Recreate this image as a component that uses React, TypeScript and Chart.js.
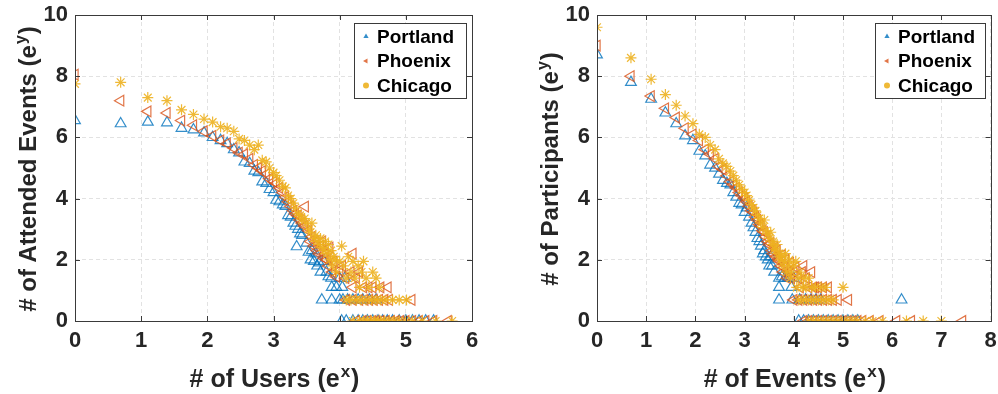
import React, { useEffect, useRef } from 'react';
import { Chart, registerables } from 'chart.js';

Chart.register(...registerables);

const seriesNames = ['Portland', 'Phoenix', 'Chicago'];
const seriesColors = ['rgba(0,114,189,0.8)', 'rgba(217,83,25,0.8)', 'rgba(237,177,32,0.9)'];

const usersXTicks = [0, 1, 2, 3, 4, 5, 6];
const eventsXTicks = [0, 1, 2, 3, 4, 5, 6, 7, 8];
const yTicks = [0, 2, 4, 6, 8, 10];

// Left: # of Users (x) vs # of Attended Events (y)
const usersPortland = [
  [0, 6.55], [0.69, 6.45], [1.1, 6.5], [1.39, 6.48], [1.61, 6.3], [1.79, 6.25], [1.95, 6.15], [2.08, 6.0],
  [2.2, 5.9], [2.3, 5.8], [2.4, 5.6], [2.48, 5.5], [2.56, 5.2], [2.64, 5.15], [2.71, 4.9], [2.77, 4.85],
  [2.83, 4.55], [2.89, 4.5], [2.94, 4.3], [3.0, 4.2], [3.04, 3.95], [3.09, 3.9], [3.14, 3.8], [3.18, 3.75],
  [3.22, 3.45], [3.26, 3.4], [3.3, 3.2], [3.33, 3.1], [3.37, 3.0], [3.4, 2.85], [3.43, 2.8], [3.35, 2.43],
  [3.5, 2.55], [3.53, 2.25], [3.56, 2.0], [3.58, 2.3], [3.61, 1.95], [3.64, 2.2], [3.66, 1.8], [3.69, 1.9],
  [3.71, 1.6], [3.76, 1.95], [3.8, 1.6], [3.83, 1.45], [3.87, 1.4], [3.88, 1.1], [3.95, 1.1], [4.0, 1.4],
  [4.04, 1.1], [4.08, 1.4],
  [3.73, 0.69], [3.88, 0.69], [4.0, 0.69], [4.05, 0.69], [4.12, 0.69], [4.2, 0.69], [4.28, 0.69], [4.35, 0.69],
  [4.45, 0.69], [4.55, 0.69],
  [4.03, 0], [4.1, 0], [4.2, 0], [4.28, 0], [4.35, 0], [4.42, 0], [4.5, 0], [4.58, 0], [4.65, 0], [4.72, 0],
  [4.8, 0], [4.9, 0], [5.0, 0], [5.1, 0], [5.2, 0], [5.3, 0], [5.42, 0],
];

const usersPhoenix = [
  [0, 8.05], [0.69, 7.2], [1.1, 6.85], [1.39, 6.8], [1.61, 6.55], [1.79, 6.4], [1.95, 6.2], [2.08, 6.05],
  [2.2, 5.9], [2.3, 5.8], [2.4, 5.65], [2.48, 5.5], [2.56, 5.45], [2.64, 5.3], [2.71, 5.1], [2.77, 5.0],
  [2.83, 4.9], [2.89, 4.8], [2.94, 4.65], [3.0, 4.55], [3.04, 4.5], [3.09, 4.35], [3.14, 4.2], [3.18, 4.05],
  [3.22, 3.9], [3.26, 3.75], [3.3, 3.6], [3.33, 3.5], [3.37, 3.45], [3.4, 3.3], [3.43, 3.2], [3.47, 3.1],
  [3.48, 3.74], [3.53, 2.95], [3.56, 2.6], [3.58, 2.75], [3.61, 2.45], [3.64, 2.6], [3.66, 2.3], [3.69, 2.2],
  [3.71, 2.45], [3.74, 2.6], [3.76, 2.05], [3.78, 2.2], [3.81, 2.0], [3.83, 1.8], [3.85, 2.4], [3.89, 1.6],
  [3.91, 1.95], [3.95, 1.45], [4.0, 1.65], [4.04, 1.8], [4.09, 1.4], [4.2, 2.2], [4.17, 1.6], [4.2, 1.1],
  [4.25, 1.4], [4.3, 1.6], [4.36, 1.1], [4.44, 1.1], [4.5, 1.1], [4.62, 1.1], [4.73, 1.1],
  [4.1, 0.69], [4.2, 0.69], [4.3, 0.69], [4.38, 0.69], [4.45, 0.69], [4.52, 0.69], [4.6, 0.69], [4.68, 0.69],
  [4.75, 0.69], [5.09, 0.69],
  [4.25, 0], [4.35, 0], [4.42, 0], [4.5, 0], [4.55, 0], [4.62, 0], [4.7, 0], [4.78, 0], [4.85, 0], [4.92, 0],
  [5.0, 0], [5.1, 0], [5.2, 0], [5.3, 0], [5.42, 0], [5.64, 0],
];

const usersChicago = [
  [0, 7.75], [0.69, 7.8], [1.1, 7.3], [1.39, 7.2], [1.61, 6.9], [1.79, 6.75], [1.95, 6.6], [2.08, 6.5],
  [2.2, 6.35], [2.3, 6.3], [2.4, 6.2], [2.48, 5.95], [2.56, 5.9], [2.64, 5.75], [2.71, 5.6], [2.77, 5.75],
  [2.83, 5.25], [2.89, 5.2], [2.94, 5.0], [3.0, 4.85], [3.04, 4.75], [3.09, 4.6], [3.14, 4.4], [3.18, 4.35],
  [3.22, 4.1], [3.26, 4.0], [3.3, 3.85], [3.33, 3.7], [3.37, 3.5], [3.4, 3.45], [3.43, 3.3], [3.47, 3.35],
  [3.5, 3.2], [3.53, 3.0], [3.56, 2.9], [3.58, 3.2], [3.61, 2.7], [3.64, 2.8], [3.66, 2.6], [3.69, 2.5],
  [3.71, 2.7], [3.74, 2.4], [3.76, 2.3], [3.78, 2.6], [3.81, 2.2], [3.83, 2.5], [3.85, 2.0], [3.87, 2.3],
  [3.89, 1.8], [3.91, 2.1], [3.93, 2.0], [3.95, 1.6], [4.0, 1.95], [4.03, 2.45], [4.06, 1.8], [4.1, 1.4],
  [4.13, 2.1], [4.17, 1.6], [4.2, 1.95], [4.23, 1.4], [4.28, 1.8], [4.3, 1.1], [4.33, 1.6], [4.36, 1.95],
  [4.4, 1.4], [4.44, 1.1], [4.5, 1.6], [4.55, 1.4], [4.6, 1.1],
  [4.1, 0.69], [4.17, 0.69], [4.25, 0.69], [4.32, 0.69], [4.4, 0.69], [4.48, 0.69], [4.55, 0.69],
  [4.62, 0.69], [4.7, 0.69], [4.8, 0.69], [4.9, 0.69], [5.01, 0.69],
  [4.2, 0], [4.3, 0], [4.36, 0], [4.42, 0], [4.48, 0], [4.52, 0], [4.58, 0], [4.62, 0], [4.68, 0], [4.75, 0],
  [4.82, 0], [4.9, 0], [5.0, 0], [5.1, 0], [5.25, 0], [5.45, 0], [5.7, 0],
];

// Right: # of Events (x) vs # of Participants (y)
const eventsPortland = [
  [0, 8.7], [0.69, 7.8], [1.1, 7.25], [1.39, 6.8], [1.61, 6.45], [1.79, 6.05], [1.95, 5.9], [2.08, 5.55],
  [2.2, 5.4], [2.3, 5.1], [2.4, 5.0], [2.48, 4.8], [2.56, 4.6], [2.64, 4.5], [2.71, 4.45], [2.77, 4.2],
  [2.83, 4.05], [2.89, 3.85], [2.94, 3.8], [3.0, 3.55], [3.04, 3.7], [3.09, 3.4], [3.14, 3.2], [3.18, 3.05],
  [3.22, 2.9], [3.26, 2.7], [3.3, 2.6], [3.33, 2.45], [3.37, 2.2], [3.4, 2.3], [3.43, 2.1], [3.47, 2.0],
  [3.5, 1.8], [3.53, 2.1], [3.56, 1.8], [3.6, 1.6], [3.7, 1.4], [3.76, 1.45], [3.82, 1.4], [3.88, 1.4],
  [3.7, 1.1], [3.95, 1.1], [4.0, 1.4],
  [3.7, 0.69], [3.97, 0.69], [4.12, 0.69], [4.24, 0.69], [4.35, 0.69], [4.45, 0.69], [4.55, 0.69], [6.19, 0.69],
  [4.1, 0], [4.2, 0], [4.3, 0], [4.4, 0], [4.5, 0], [4.6, 0], [4.7, 0], [4.8, 0], [4.9, 0], [5.0, 0],
  [5.1, 0], [5.2, 0], [5.3, 0],
];

const eventsPhoenix = [
  [0, 9.0], [0.69, 8.0], [1.1, 7.35], [1.39, 6.95], [1.61, 6.65], [1.79, 6.3], [1.95, 6.1], [2.08, 5.9],
  [2.2, 5.6], [2.3, 5.45], [2.4, 5.3], [2.48, 5.05], [2.56, 4.95], [2.64, 4.75], [2.71, 4.55], [2.77, 4.45],
  [2.83, 4.35], [2.89, 4.2], [2.94, 4.1], [3.0, 4.0], [3.04, 3.9], [3.09, 3.75], [3.14, 3.6], [3.18, 3.55],
  [3.22, 3.4], [3.26, 3.3], [3.3, 3.15], [3.33, 3.1], [3.37, 2.95], [3.4, 2.9], [3.43, 2.75], [3.47, 2.6],
  [3.5, 2.5], [3.53, 2.55], [3.56, 2.3], [3.58, 2.2], [3.61, 2.4], [3.64, 2.1], [3.66, 2.3], [3.69, 2.0],
  [3.71, 1.95], [3.74, 1.8], [3.76, 2.15], [3.78, 1.6], [3.81, 1.75], [3.83, 2.0], [3.87, 1.4], [3.89, 1.6],
  [3.93, 1.9], [3.95, 1.4], [4.0, 1.6], [4.04, 1.75], [4.09, 1.4], [4.13, 1.1], [4.17, 1.6], [4.2, 1.8],
  [4.25, 1.4], [4.3, 1.1], [4.36, 1.6], [4.4, 1.1], [4.44, 1.1], [4.5, 1.1], [4.6, 1.1], [4.7, 1.1],
  [4.0, 0.69], [4.1, 0.69], [4.2, 0.69], [4.3, 0.69], [4.4, 0.69], [4.5, 0.69], [4.6, 0.69], [4.7, 0.69],
  [4.8, 0.69], [4.9, 0.69], [5.11, 0.69],
  [4.2, 0], [4.3, 0], [4.4, 0], [4.5, 0], [4.6, 0], [4.7, 0], [4.8, 0], [4.9, 0], [5.0, 0], [5.1, 0],
  [5.2, 0], [5.3, 0], [5.4, 0], [5.55, 0], [5.75, 0], [6.09, 0], [6.39, 0], [7.43, 0],
];

const eventsChicago = [
  [0, 9.6], [0.69, 8.6], [1.1, 7.9], [1.39, 7.4], [1.61, 7.05], [1.79, 6.7], [1.95, 6.45], [2.08, 6.1],
  [2.2, 6.0], [2.3, 5.75], [2.4, 5.6], [2.48, 5.3], [2.56, 5.15], [2.64, 5.05], [2.71, 4.9], [2.77, 4.75],
  [2.83, 4.6], [2.89, 4.45], [2.94, 4.3], [3.0, 4.2], [3.04, 4.1], [3.09, 3.95], [3.14, 3.8], [3.18, 3.7],
  [3.22, 3.6], [3.26, 3.45], [3.3, 3.35], [3.33, 3.2], [3.37, 3.05], [3.4, 3.3], [3.43, 2.95], [3.47, 2.85],
  [3.5, 2.7], [3.53, 2.9], [3.56, 2.5], [3.58, 2.6], [3.61, 2.35], [3.64, 2.3], [3.66, 2.5], [3.69, 2.1],
  [3.71, 2.2], [3.74, 2.0], [3.76, 2.15], [3.78, 1.8], [3.81, 1.95], [3.83, 2.2], [3.85, 1.6], [3.89, 1.8],
  [3.91, 2.0], [3.93, 1.4], [3.95, 1.6], [4.0, 1.8], [4.04, 1.95], [4.06, 1.1], [4.09, 1.4], [4.13, 1.6],
  [4.17, 1.1], [4.2, 1.4], [4.25, 1.1], [4.3, 1.4], [4.36, 1.1], [4.44, 1.1], [4.55, 1.1], [4.65, 1.1],
  [5.0, 1.1],
  [4.1, 0.69], [4.2, 0.69], [4.3, 0.69], [4.4, 0.69], [4.5, 0.69], [4.6, 0.69], [4.7, 0.69], [4.8, 0.69],
  [4.3, 0], [4.4, 0], [4.5, 0], [4.6, 0], [4.7, 0], [4.8, 0], [4.9, 0], [5.0, 0], [5.1, 0], [5.2, 0],
  [5.3, 0], [5.45, 0], [5.6, 0], [5.8, 0], [6.29, 0], [6.63, 0], [7.0, 0],
];

const FONT = '"Liberation Sans", Arial, Helvetica, sans-serif';
const TEXT = '#262626';

function drawSupText(ctx: CanvasRenderingContext2D, base: string, sup: string, tail: string, size: number, baseY: number) {
  const big = `bold ${size}px ${FONT}`;
  const small = `bold ${Math.round(size * 0.66)}px ${FONT}`;
  ctx.font = big;
  const w1 = ctx.measureText(base).width;
  const w3 = ctx.measureText(tail).width;
  ctx.font = small;
  const w2 = ctx.measureText(sup).width;
  let x = -(w1 + w2 + w3) / 2;
  ctx.textAlign = 'left';
  ctx.textBaseline = 'alphabetic';
  ctx.font = big;
  ctx.fillText(base, x, baseY);
  x += w1;
  ctx.font = small;
  ctx.fillText(sup, x + 1, baseY - size * 0.42);
  x += w2 + 2;
  ctx.font = big;
  ctx.fillText(tail, x, baseY);
}

function drawMarker(ctx: CanvasRenderingContext2D, kind: number, x: number, y: number, r: number) {
  ctx.beginPath();
  if (kind === 0) {
    ctx.moveTo(x, y - r);
    ctx.lineTo(x + r * 0.87, y + r * 0.5);
    ctx.lineTo(x - r * 0.87, y + r * 0.5);
    ctx.closePath();
  } else if (kind === 1) {
    ctx.moveTo(x - r, y);
    ctx.lineTo(x + r * 0.5, y - r * 0.87);
    ctx.lineTo(x + r * 0.5, y + r * 0.87);
    ctx.closePath();
  } else {
    ctx.arc(x, y, r, 0, Math.PI * 2);
  }
}

const framePlugin = {
  id: 'matlabFrame',
  afterDraw(chart: any, _args: any, opts: any) {
    const ctx: CanvasRenderingContext2D = chart.ctx;
    const a = chart.chartArea;
    const xs = chart.scales.x;
    const ys = chart.scales.y;
    ctx.save();
    // box
    ctx.strokeStyle = '#3a3a3a';
    ctx.lineWidth = 1;
    ctx.strokeRect(Math.round(a.left) + 0.5, Math.round(a.top) + 0.5, Math.round(a.right - a.left), Math.round(a.bottom - a.top));
    // inward ticks
    ctx.beginPath();
    const tl = 5;
    (opts.xTicks as number[]).forEach((v) => {
      const px = Math.round(xs.getPixelForValue(v)) + 0.5;
      ctx.moveTo(px, a.bottom);
      ctx.lineTo(px, a.bottom - tl);
      ctx.moveTo(px, a.top);
      ctx.lineTo(px, a.top + tl);
    });
    (opts.yTicks as number[]).forEach((v) => {
      const py = Math.round(ys.getPixelForValue(v)) + 0.5;
      ctx.moveTo(a.left, py);
      ctx.lineTo(a.left + tl, py);
      ctx.moveTo(a.right, py);
      ctx.lineTo(a.right - tl, py);
    });
    ctx.stroke();

    // titles
    ctx.fillStyle = TEXT;
    ctx.save();
    ctx.translate((a.left + a.right) / 2, opts.xTitleBaseline);
    drawSupText(ctx, opts.xTitle[0], opts.xTitle[1], opts.xTitle[2], 25, 0);
    ctx.restore();
    ctx.save();
    ctx.translate(opts.yTitleX, (a.top + a.bottom) / 2 + 2);
    ctx.rotate(-Math.PI / 2);
    drawSupText(ctx, opts.yTitle[0], opts.yTitle[1], opts.yTitle[2], 24, 9);
    ctx.restore();

    // legend
    const lw = opts.legendW;
    const lh = 75;
    const lx = Math.round(a.right - 6 - lw);
    const ly = Math.round(a.top + 8);
    ctx.fillStyle = '#ffffff';
    ctx.fillRect(lx, ly, lw, lh);
    ctx.strokeStyle = '#3a3a3a';
    ctx.lineWidth = 1;
    ctx.strokeRect(lx + 0.5, ly + 0.5, lw, lh);
    seriesNames.forEach((name, i) => {
      const cy = ly + 13.5 + i * 24.5;
      ctx.fillStyle = seriesColors[i];
      drawMarker(ctx, i, lx + 12, cy, 3);
      ctx.fill();
      ctx.fillStyle = '#000000';
      ctx.font = `bold 19px ${FONT}`;
      ctx.textAlign = 'left';
      ctx.textBaseline = 'middle';
      ctx.fillText(name, lx + 23, cy + 1);
    });
    ctx.restore();
  },
};

function makeConfig(
  data: number[][][],
  xMax: number,
  xTicks: number[],
  padLeft: number,
  padRight: number,
  xTitle: string[],
  yTitle: string[],
  yTitleX: number,
  legendW: number,
): any {
  const styles = [
    { pointStyle: 'triangle', rotation: 0, radius: 6.2 },
    { pointStyle: 'triangle', rotation: -90, radius: 6.2 },
    { pointStyle: 'star', rotation: 0, radius: 5.5 },
  ];
  return {
    type: 'scatter',
    data: {
      datasets: data.map((pts, i) => ({
        label: seriesNames[i],
        data: pts.map((p) => ({ x: p[0], y: p[1] })),
        pointStyle: styles[i].pointStyle,
        rotation: styles[i].rotation,
        pointRadius: styles[i].radius,
        pointBorderWidth: 1.2,
        borderColor: seriesColors[i],
        backgroundColor: 'rgba(0,0,0,0)',
        order: 2 - i,
      })),
    },
    options: {
      responsive: false,
      animation: false,
      devicePixelRatio: 1,
      layout: { padding: { left: padLeft, right: padRight, top: 15, bottom: 0 } },
      plugins: {
        legend: { display: false },
        tooltip: { enabled: false },
        matlabFrame: { xTicks, yTicks, xTitle, yTitle, yTitleX, xTitleBaseline: 387, legendW },
      },
      scales: {
        x: {
          type: 'linear',
          min: 0,
          max: xMax,
          afterBuildTicks: (s: any) => {
            s.ticks = xTicks.map((v) => ({ value: v }));
          },
          ticks: {
            font: { family: FONT, size: 22, weight: 'bold' },
            color: TEXT,
            padding: 7,
            maxRotation: 0,
            autoSkip: false,
          },
          grid: { color: '#e2e2e2', lineWidth: 1, drawTicks: false },
          border: { display: false, dash: [4, 3] },
          afterFit: (s: any) => {
            s.height = 73;
            s.paddingLeft = 0;
            s.paddingRight = 0;
          },
        },
        y: {
          type: 'linear',
          min: 0,
          max: 10,
          afterBuildTicks: (s: any) => {
            s.ticks = yTicks.map((v) => ({ value: v }));
          },
          ticks: {
            font: { family: FONT, size: 22, weight: 'bold' },
            color: TEXT,
            padding: 7,
            autoSkip: false,
          },
          grid: { color: '#e2e2e2', lineWidth: 1, drawTicks: false },
          border: { display: false, dash: [4, 3] },
          afterFit: (s: any) => {
            s.width = 45;
            s.paddingTop = 0;
            s.paddingBottom = 0;
          },
        },
      },
    },
    plugins: [framePlugin],
  };
}

function ChartCanvas({ config, left }: { config: any; left: number }) {
  const ref = useRef<HTMLCanvasElement | null>(null);
  useEffect(() => {
    if (!ref.current) return;
    const chart = new Chart(ref.current, config);
    return () => chart.destroy();
  }, [config]);
  return (
    <canvas
      ref={ref}
      width={499}
      height={394}
      style={{ position: 'absolute', left, top: 0, width: 499, height: 394 }}
    />
  );
}

const leftConfig = makeConfig(
  [usersPortland, usersPhoenix, usersChicago],
  6,
  usersXTicks,
  30,
  27,
  ['# of Users (e', 'x', ')'],
  ['# of Attended Events (e', 'y', ')'],
  27,
  112,
);

const rightConfig = makeConfig(
  [eventsPortland, eventsPhoenix, eventsChicago],
  8,
  eventsXTicks,
  53,
  5,
  ['# of Events (e', 'x', ')'],
  ['# of Participants (e', 'y', ')'],
  50,
  110,
);

export default function App() {
  return (
    <div style={{ position: 'fixed', left: 0, top: 0, width: 998, height: 394, background: '#ffffff' }}>
      <ChartCanvas config={leftConfig} left={0} />
      <ChartCanvas config={rightConfig} left={499} />
    </div>
  );
}
